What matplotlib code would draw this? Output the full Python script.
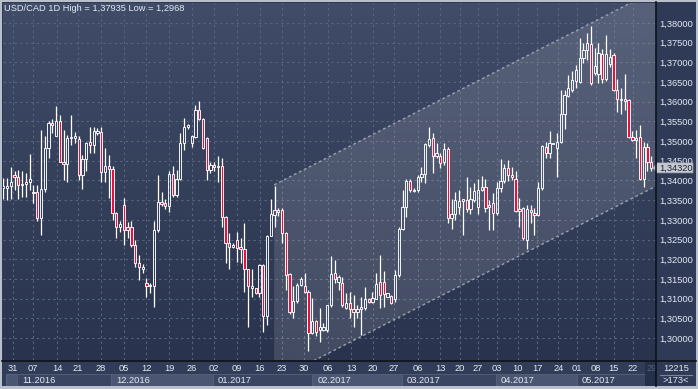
import numpy as np
import matplotlib
matplotlib.use("Agg")
import matplotlib.pyplot as plt
from matplotlib.patches import Rectangle, Polygon
from matplotlib.colors import LinearSegmentedColormap
import matplotlib.transforms as mtransforms

plt.rcParams['font.family'] = ['Liberation Sans', 'DejaVu Sans']

# ---------------- data (USD/CAD daily) ----------------
open_ = [1.3381, 1.3380, 1.3385, 1.3414, 1.3408, 1.3392, 1.3392, 1.3395, 1.3371, 1.3371,
         1.3304, 1.3378, 1.3482, 1.3546, 1.3514, 1.3552, 1.3447, 1.3442, 1.3511, 1.3508,
         1.3505, 1.3413, 1.3455, 1.3497, 1.3491, 1.3520, 1.3522, 1.3422, 1.3437, 1.3430,
         1.3317, 1.3281, 1.3337, 1.3281, 1.3281, 1.3237, 1.3190, 1.3176, 1.3139, 1.3132,
         1.3131, 1.3275, 1.3345, 1.3343, 1.3334, 1.3417, 1.3364, 1.3403, 1.3495, 1.3536,
         1.3495, 1.3511, 1.3580, 1.3556, 1.3508, 1.3427, 1.3440, 1.3434, 1.3436, 1.3307,
         1.3241, 1.3231, 1.3249, 1.3231, 1.3226, 1.3175, 1.3126, 1.3126, 1.3114, 1.3186,
         1.3056, 1.3259, 1.3313, 1.3325, 1.3324, 1.3266, 1.3163, 1.3065, 1.3095, 1.3135,
         1.3132, 1.3118, 1.3012, 1.3044, 1.3021, 1.3021, 1.3021, 1.3084, 1.3164, 1.3143,
         1.3139, 1.3075, 1.3089, 1.3073, 1.3067, 1.3073, 1.3075, 1.3098, 1.3092, 1.3099,
         1.3143, 1.3143, 1.3105, 1.3106, 1.3099, 1.3160, 1.3278, 1.3333, 1.3399, 1.3377,
         1.3377, 1.3408, 1.3416, 1.3490, 1.3507, 1.3461, 1.3462, 1.3448, 1.3479, 1.3304,
         1.3316, 1.3332, 1.3350, 1.3350, 1.3327, 1.3350, 1.3332, 1.3376, 1.3383, 1.3333,
         1.3342, 1.3318, 1.3380, 1.3399, 1.3433, 1.3414, 1.3405, 1.3327, 1.3329, 1.3250,
         1.3325, 1.3318, 1.3312, 1.3380, 1.3486, 1.3469, 1.3493, 1.3482, 1.3498, 1.3570,
         1.3614, 1.3630, 1.3653, 1.3651, 1.3710, 1.3731, 1.3747, 1.3672, 1.3670, 1.3721,
         1.3657, 1.3696, 1.3719, 1.3631, 1.3604, 1.3606, 1.3604, 1.3511, 1.3504, 1.3511,
         1.3405, 1.3484, 1.3448]
high = [1.3406, 1.3406, 1.3434, 1.3425, 1.3427, 1.3425, 1.3419, 1.3467, 1.3389, 1.3389,
        1.3529, 1.3512, 1.3550, 1.3556, 1.3590, 1.3567, 1.3529, 1.3516, 1.3567, 1.3522,
        1.3514, 1.3465, 1.3499, 1.3537, 1.3537, 1.3533, 1.3536, 1.3482, 1.3465, 1.3436,
        1.3321, 1.3296, 1.3355, 1.3294, 1.3298, 1.3249, 1.3211, 1.3188, 1.3152, 1.3139,
        1.3296, 1.3414, 1.3370, 1.3352, 1.3423, 1.3436, 1.3427, 1.3520, 1.3558, 1.3544,
        1.3516, 1.3592, 1.3601, 1.3558, 1.3510, 1.3448, 1.3446, 1.3461, 1.3457, 1.3310,
        1.3266, 1.3241, 1.3270, 1.3253, 1.3292, 1.3176, 1.3175, 1.3128, 1.3188, 1.3188,
        1.3262, 1.3353, 1.3386, 1.3330, 1.3330, 1.3270, 1.3165, 1.3131, 1.3139, 1.3156,
        1.3166, 1.3122, 1.3101, 1.3046, 1.3076, 1.3037, 1.3084, 1.3208, 1.3198, 1.3160,
        1.3156, 1.3113, 1.3117, 1.3109, 1.3084, 1.3105, 1.3130, 1.3101, 1.3117, 1.3166,
        1.3211, 1.3171, 1.3115, 1.3109, 1.3173, 1.3283, 1.3377, 1.3405, 1.3405, 1.3380,
        1.3414, 1.3435, 1.3496, 1.3535, 1.3520, 1.3496, 1.3469, 1.3496, 1.3486, 1.3354,
        1.3371, 1.3376, 1.3352, 1.3408, 1.3383, 1.3393, 1.3403, 1.3411, 1.3403, 1.3350,
        1.3369, 1.3397, 1.3454, 1.3442, 1.3452, 1.3435, 1.3425, 1.3355, 1.3333, 1.3338,
        1.3338, 1.3329, 1.3397, 1.3490, 1.3498, 1.3526, 1.3496, 1.3520, 1.3630, 1.3631,
        1.3668, 1.3679, 1.3693, 1.3761, 1.3748, 1.3775, 1.37935, 1.3736, 1.3748, 1.3733,
        1.3769, 1.3733, 1.3725, 1.3659, 1.3634, 1.3670, 1.3608, 1.3526, 1.3528, 1.3541,
        1.3498, 1.3496, 1.3462]
low = [1.3353, 1.3351, 1.3353, 1.3376, 1.3354, 1.3358, 1.3359, 1.3376, 1.3342, 1.3296,
       1.3262, 1.3372, 1.3457, 1.3520, 1.3514, 1.3446, 1.3402, 1.3397, 1.3491, 1.3495,
       1.3400, 1.3378, 1.3423, 1.3469, 1.3469, 1.3516, 1.3395, 1.3397, 1.3355, 1.3300,
       1.3253, 1.3270, 1.3235, 1.3253, 1.3232, 1.3181, 1.3148, 1.3166, 1.3104, 1.3115,
       1.3078, 1.3270, 1.3334, 1.3328, 1.3321, 1.3358, 1.3358, 1.3402, 1.3478, 1.3530,
       1.3486, 1.3508, 1.3554, 1.3480, 1.3402, 1.3419, 1.3423, 1.3397, 1.3281, 1.3190,
       1.3175, 1.3228, 1.3194, 1.3190, 1.3118, 1.3027, 1.3105, 1.3112, 1.3105, 1.3016,
       1.3033, 1.3258, 1.3283, 1.3309, 1.3242, 1.3122, 1.3061, 1.3050, 1.3088, 1.3132,
       1.3114, 1.2968, 1.3010, 1.3004, 1.2991, 1.3019, 1.3016, 1.3079, 1.3139, 1.3122,
       1.3078, 1.3073, 1.3050, 1.3029, 1.3050, 1.3007, 1.3071, 1.3090, 1.3088, 1.3099,
       1.3075, 1.3079, 1.3103, 1.3086, 1.3092, 1.3156, 1.3274, 1.3308, 1.3372, 1.3372,
       1.3372, 1.3397, 1.3393, 1.3486, 1.3420, 1.3456, 1.3431, 1.3440, 1.3293, 1.3278,
       1.3300, 1.3316, 1.3261, 1.3321, 1.3316, 1.3346, 1.3316, 1.3374, 1.3321, 1.3274,
       1.3274, 1.3312, 1.3371, 1.3394, 1.3399, 1.3401, 1.3321, 1.3283, 1.3249, 1.3225,
       1.3291, 1.3261, 1.3310, 1.3376, 1.3456, 1.3456, 1.3492, 1.3410, 1.3496, 1.3532,
       1.3611, 1.3625, 1.3634, 1.3648, 1.3699, 1.3706, 1.3642, 1.3668, 1.3647, 1.3647,
       1.3653, 1.3689, 1.3628, 1.3575, 1.3570, 1.3579, 1.3507, 1.3501, 1.3456, 1.3401,
       1.3384, 1.3425, 1.3425]
close = [1.3385, 1.3386, 1.3396, 1.3408, 1.3388, 1.3388, 1.3397, 1.3403, 1.3368, 1.3304,
         1.3378, 1.3482, 1.3547, 1.3541, 1.3552, 1.3447, 1.3442, 1.3508, 1.3507, 1.3514,
         1.3413, 1.3455, 1.3495, 1.3491, 1.3525, 1.3525, 1.3422, 1.3437, 1.3430, 1.3317,
         1.3281, 1.3290, 1.3275, 1.3275, 1.3237, 1.3190, 1.3181, 1.3181, 1.3131, 1.3131,
         1.3275, 1.3345, 1.3341, 1.3335, 1.3417, 1.3364, 1.3403, 1.3495, 1.3536, 1.3540,
         1.3512, 1.3580, 1.3556, 1.3482, 1.3427, 1.3440, 1.3434, 1.3437, 1.3307, 1.3241,
         1.3232, 1.3237, 1.3228, 1.3226, 1.3175, 1.3132, 1.3132, 1.3114, 1.3186, 1.3056,
         1.3259, 1.3315, 1.3325, 1.3321, 1.3266, 1.3160, 1.3065, 1.3095, 1.3135, 1.3149,
         1.3118, 1.3012, 1.3044, 1.3016, 1.3027, 1.3027, 1.3084, 1.3162, 1.3151, 1.3156,
         1.3084, 1.3089, 1.3073, 1.3067, 1.3073, 1.3079, 1.3099, 1.3092, 1.3102, 1.3136,
         1.3109, 1.3111, 1.3113, 1.3088, 1.3160, 1.3278, 1.3333, 1.3399, 1.3377, 1.3374,
         1.3408, 1.3416, 1.3493, 1.3505, 1.3461, 1.3471, 1.3445, 1.3479, 1.3304, 1.3316,
         1.3350, 1.3349, 1.3349, 1.3327, 1.3352, 1.3374, 1.3376, 1.3383, 1.3329, 1.3339,
         1.3318, 1.3380, 1.3399, 1.3433, 1.3414, 1.3408, 1.3323, 1.3323, 1.3253, 1.3327,
         1.3321, 1.3312, 1.3380, 1.3487, 1.3469, 1.3494, 1.3494, 1.3498, 1.3570, 1.3617,
         1.3634, 1.3655, 1.3681, 1.3710, 1.3731, 1.3748, 1.3648, 1.3691, 1.3723, 1.3657,
         1.3721, 1.3714, 1.3631, 1.3606, 1.3606, 1.3603, 1.3511, 1.3504, 1.3509, 1.3405,
         1.3484, 1.3448, 1.3432]

day_labels = ['31', '07', '14', '21', '28', '05', '12', '19', '26', '02', '09', '16', '23',
              '30', '06', '13', '20', '27', '06', '13', '20', '27', '03', '10', '17', '24',
              '01', '08', '15', '22']
day_pos = [2.6, 7.9, 14.3, 19.8, 25.9, 32.0, 37.9, 44.0, 50.1, 55.9, 62.0, 68.1, 74.0,
           79.8, 86.2, 92.3, 98.1, 103.7, 110.1, 116.0, 121.2, 126.0, 131.1, 136.6, 141.7,
           147.3, 152.3, 157.3, 162.1, 167.2]
month_labels = ['11.2016', '12.2016', '01.2017', '02.2017', '03.2017', '04.2017', '05.2017']
month_edges = [3.6, 28.6, 55.7, 82.0, 105.8, 130.8, 152.3, 170.3]

price_ticks = [1.300, 1.305, 1.310, 1.315, 1.320, 1.325, 1.330, 1.335, 1.340,
               1.345, 1.350, 1.355, 1.360, 1.365, 1.370, 1.375, 1.380]
last_price = 1.34320
title = "USD/CAD 1D High = 1,37935 Low = 1,2968"

# channel (drawn trend channel)
ch_x0 = 71.9
ch_upper0 = 1.3389
ch_lower0 = 1.2891
ch_slope = 0.000488

# ---------------- figure ----------------
W, H = 698, 389
fig = plt.figure(figsize=(W / 100, H / 100), dpi=100, facecolor='#b9c0cb')

def fx(px):
    return px / W

def fy(py):
    return 1 - py / H

def rect_px(x0, y0, x1, y1, color, z=0, ec='none', lw=0):
    r = Rectangle((fx(x0), fy(y1)), fx(x1) - fx(x0), fy(y0) - fy(y1),
                  transform=fig.transFigure, facecolor=color, edgecolor=ec,
                  linewidth=lw, zorder=z)
    fig.add_artist(r)
    return r

# base dark panels
rect_px(2, 2, 696, 386, '#2f3b56', z=0)

TXT = '#e4eaf4'
FS = 6.7

# ---------------- main axes ----------------
ax = fig.add_axes([fx(3), fy(360), fx(656) - fx(3), fy(3) - fy(360)])
ax.set_facecolor('#333f5a')
cmap = LinearSegmentedColormap.from_list('bg', ['#404c68', '#29334d'])
ax.imshow(np.linspace(0, 1, 256).reshape(-1, 1), extent=[0, 1, 0, 1],
          transform=ax.transAxes, cmap=cmap, aspect='auto', zorder=0,
          interpolation='bilinear')

n = len(close)
xs = np.arange(n)
XMIN, XMAX = -0.08, 173.27
YMIN, YMAX = 1.29441, 1.38508

# channel
x1 = XMAX + 5
up = [ch_upper0, ch_upper0 + ch_slope * (x1 - ch_x0)]
lo = [ch_lower0, ch_lower0 + ch_slope * (x1 - ch_x0)]
ax.add_patch(Polygon([(ch_x0, lo[0]), (ch_x0, up[0]), (x1, up[1]), (x1, lo[1])],
                     closed=True, facecolor='white', alpha=0.12, edgecolor='none', zorder=1))
for yy in (up, lo):
    ax.plot([ch_x0, x1], yy, color='#9aa2b4', lw=1.0, linestyle=(0, (2, 2)), zorder=2)

# candles
bw = 0.6
minh = 0.00028
RED = '#e8103c'
for i in range(n):
    o, h, l, c = open_[i], high[i], low[i], close[i]
    top, bot = max(o, c), min(o, c)
    ax.vlines(xs[i], top, h, color='white', lw=0.9, zorder=3)
    ax.vlines(xs[i], l, bot, color='white', lw=0.9, zorder=3)
    hgt = max(top - bot, minh)
    fc = RED if c < o else 'none'
    ax.add_patch(Rectangle((xs[i] - bw / 2, bot), bw, hgt, facecolor=fc,
                           edgecolor='white', linewidth=0.65, zorder=4))

ax.set_xlim(XMIN, XMAX)
ax.set_ylim(YMIN, YMAX)
ax.set_yticks(price_ticks)
ax.set_yticklabels([f"{v:.5f}".replace('.', ',') for v in price_ticks])
ax.yaxis.tick_right()
ax.tick_params(axis='y', length=0, pad=2.5, labelsize=FS, labelcolor=TXT)
ax.set_xticks(day_pos)
ax.tick_params(axis='x', length=0, labelbottom=False)
ax.grid(True, color='#5a6681', linestyle=(0, (2, 3)), linewidth=0.8, zorder=0.5)
ax.set_axisbelow(True)
for s in ax.spines.values():
    s.set_visible(False)

# current price marker
tr = mtransforms.blended_transform_factory(fig.transFigure, ax.transData)
hh = (YMAX - YMIN) / 357 * 5
ax.add_patch(Polygon([(fx(653), last_price), (fx(657), last_price + hh),
                      (fx(693), last_price + hh), (fx(693), last_price - hh),
                      (fx(657), last_price - hh)], closed=True, transform=tr,
                     facecolor='#c6cad1', edgecolor='#9aa0aa', lw=0.5,
                     clip_on=False, zorder=10))
ax.text(fx(659), last_price, f"{last_price:.5f}".replace('.', ','), transform=tr,
        fontsize=FS, color='#1c2233', va='center', ha='left', zorder=11, clip_on=False)

# title
fig.text(fx(4), fy(8.5), title, fontsize=FS, color=TXT, va='center', ha='left', zorder=20)

# ---------------- bottom time axis ----------------
axb = fig.add_axes([fx(3), fy(386), fx(656) - fx(3), fy(360) - fy(386)])
axb.set_xlim(XMIN, XMAX)
axb.set_ylim(26, 0)  # pixel rows, 0 = top (y=360)
axb.set_facecolor('#313d58')
axb.set_xticks([])
axb.set_yticks([])
for s in axb.spines.values():
    s.set_visible(False)

px_per = (656 - 3) / (XMAX - XMIN)
axb.add_patch(Rectangle((XMIN + 3 / px_per, 14), month_edges[0] - XMIN - 3 / px_per, 12,
                        facecolor='#4b5772', edgecolor='#5c6882', lw=0.6))
for k, lab in enumerate(month_labels):
    a, b = month_edges[k], month_edges[k + 1]
    col = '#3a4661' if k % 2 == 0 else '#4b5772'
    axb.add_patch(Rectangle((a, 14), b - a, 12, facecolor=col,
                            edgecolor='#56627c', lw=0.6))
    axb.text(a + 5 / px_per, 20.3, lab, fontsize=FS, color=TXT, va='center', ha='left')
for p, lab in zip(day_pos, day_labels):
    axb.text(p, 8.8, lab, fontsize=FS, color=TXT, va='center', ha='center')
axb.add_patch(Rectangle((month_edges[-1], 2), XMAX - month_edges[-1], 24,
                        facecolor='#243049', edgecolor='none', zorder=3))
axb.text(172.2, 8.8, '29', fontsize=FS, color='#56627a', va='center', ha='center',
         zorder=4, clip_on=True)

# corner box
fig.text(fx(676), fy(368.5), '12215', fontsize=FS, color=TXT, ha='center', va='center')
fig.text(fx(676), fy(380.5), '>173<', fontsize=FS, color=TXT, ha='center', va='center')
fig.add_artist(plt.Line2D([fx(660), fx(692)], [fy(374.5), fy(374.5)],
                          transform=fig.transFigure, color='#7c869a', lw=0.8))

# separators
fig.add_artist(plt.Line2D([fx(656), fx(656)], [fy(2), fy(386)],
                          transform=fig.transFigure, color='#0e121a', lw=1.2, zorder=30))
fig.add_artist(plt.Line2D([fx(2), fx(696)], [fy(360.5), fy(360.5)],
                          transform=fig.transFigure, color='#0e121a', lw=1.2, zorder=30))

fig.savefig('out.png', dpi=100, facecolor=fig.get_facecolor())
